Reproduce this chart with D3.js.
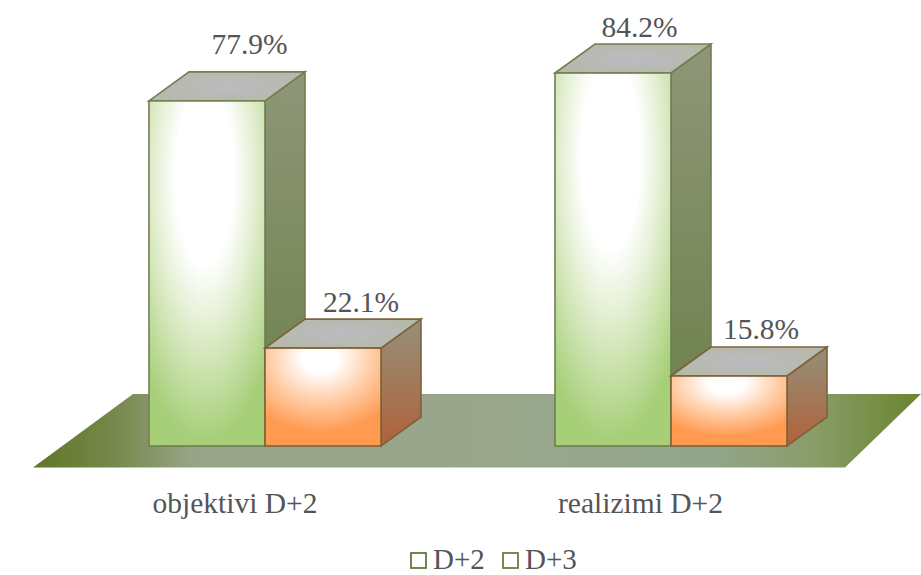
<!DOCTYPE html>
<html><head><meta charset="utf-8">
<script src="https://cdn.jsdelivr.net/npm/d3@7"></script>
<style>html,body{margin:0;padding:0;background:#fff}svg{display:block}text{font-family:"Liberation Serif",serif;fill:#555}</style>
</head><body><svg id="c" width="921" height="575"></svg>
<script>
const categories = ["objektivi D+2", "realizimi D+2"];
const seriesNames = ["D+2", "D+3"];
const d2Values = [77.9, 84.2];
const d3Values = [22.1, 15.8];
const valueLabels = [["77.9%", "84.2%"], ["22.1%", "15.8%"]];

const svg = d3.select("#c");
const defs = svg.append("defs");
const y = d3.scaleLinear().domain([0, 100]).range([446, 3]);
const x0 = d3.scaleOrdinal().domain(categories).range([149, 555]);
const x1 = d3.scaleBand().domain(seriesNames).range([0, 232]);
const dx = 40, dy = 29;
const catX = d3.scaleOrdinal().domain(categories).range([235, 640.5]);
const labelShift = {"77.9%": [42.5, -18], "84.2%": [26.5, -7], "22.1%": [38, -7], "15.8%": [32, -8]};
const colors = {
  "D+2": {c: "#a6cf78", mid: "#e2eecf", edge: "#6f7f52", side0: "#8f9678", side1: "#6b8048", legend: "#5f7a3a"},
  "D+3": {c: "#ff9a50", mid: "#ffd0ac", edge: "#7d6238", side0: "#94907a", side1: "#b0623a", legend: "#6f7a45"}
};
seriesNames.forEach((s, i) => {
  const c = colors[s];
  const g = defs.append("radialGradient").attr("id", "front" + i)
    .attr("cx", .48).attr("cy", i ? .1 : .22).attr("r", .85);
  g.append("stop").attr("offset", "0%").attr("stop-color", "#fff");
  g.append("stop").attr("offset", i ? "18%" : "30%").attr("stop-color", "#fff");
  g.append("stop").attr("offset", i ? "50%" : "52%").attr("stop-color", c.mid);
  g.append("stop").attr("offset", "90%").attr("stop-color", c.c);
  const sd = defs.append("linearGradient").attr("id", "side" + i).attr("x1", 0).attr("x2", 0).attr("y1", 0).attr("y2", 1);
  sd.append("stop").attr("offset", "0%").attr("stop-color", c.side0);
  sd.append("stop").attr("offset", "100%").attr("stop-color", c.side1);
});
const tg = defs.append("radialGradient").attr("id", "topFace").attr("cx", .5).attr("cy", .5).attr("r", .6);
tg.append("stop").attr("offset", "0%").attr("stop-color", "#bbbbc2");
tg.append("stop").attr("offset", "100%").attr("stop-color", "#b6b9a8");
const fg = defs.append("linearGradient").attr("id", "floor");
[[0, "#5f7628"], [.09, "#76884a"], [.18, "#98a488"], [.5, "#9aa68c"], [.76, "#92a68c"], [.88, "#8a9c68"], [1, "#6a842e"]]
  .forEach(d => fg.append("stop").attr("offset", d[0]).attr("stop-color", d[1]));

// floor
const floorPts = [[33, 467.5], [845, 467.5], [921, 394], [133, 394]];
svg.append("polygon").attr("points", floorPts.join(" ")).attr("fill", "url(#floor)");

const rows = [];
seriesNames.forEach((s, si) => {
  const vals = si ? d3Values : d2Values;
  categories.forEach((cat, ci) => rows.push({s, si, cat, ci, v: vals[ci], label: valueLabels[si][ci]}));
});
const bars = svg.selectAll("g.bar").data(rows).join("g").attr("class", "bar");
const L = d => x0(d.cat) + x1(d.s), R = d => L(d) + x1.bandwidth(), T = d => y(d.v), B = () => y(0);
bars.append("polygon").attr("fill", d => `url(#side${d.si})`)
  .attr("stroke", d => colors[d.s].edge).attr("stroke-width", 1.6)
  .attr("points", d => [[R(d), T(d)], [R(d) + dx, T(d) - dy], [R(d) + dx, B() - dy], [R(d), B()]].join(" "));
bars.append("polygon").attr("fill", "url(#topFace)")
  .attr("stroke", d => colors[d.s].edge).attr("stroke-width", 1.6)
  .attr("points", d => [[L(d), T(d)], [L(d) + dx, T(d) - dy], [R(d) + dx, T(d) - dy], [R(d), T(d)]].join(" "));
bars.append("rect").attr("x", L).attr("y", T).attr("width", x1.bandwidth()).attr("height", d => B() - T(d))
  .attr("fill", d => `url(#front${d.si})`)
  .attr("stroke", d => colors[d.s].edge).attr("stroke-width", 1.6);
bars.append("text").attr("x", d => L(d) + x1.bandwidth() / 2 + labelShift[d.label][0])
  .attr("y", d => T(d) - dy + labelShift[d.label][1])
  .attr("text-anchor", "middle").attr("font-size", 29.5).text(d => d.label);

// category labels
svg.selectAll("text.cat").data(categories).join("text").attr("class", "cat")
  .attr("x", d => catX(d)).attr("y", 513)
  .attr("text-anchor", "middle").attr("font-size", 29.5).text(d => d);

// legend
const lg = svg.selectAll("g.lg").data(seriesNames).join("g").attr("class", "lg")
  .attr("transform", (d, i) => `translate(${[411, 503][i]},553)`);
lg.append("rect").attr("width", 15).attr("height", 15)
  .attr("fill", "#fff").attr("stroke", d => colors[d].legend).attr("stroke-width", 1.8);
lg.append("text").attr("x", 22).attr("y", 15.5).attr("font-size", 29).text(d => d);
</script></body></html>
